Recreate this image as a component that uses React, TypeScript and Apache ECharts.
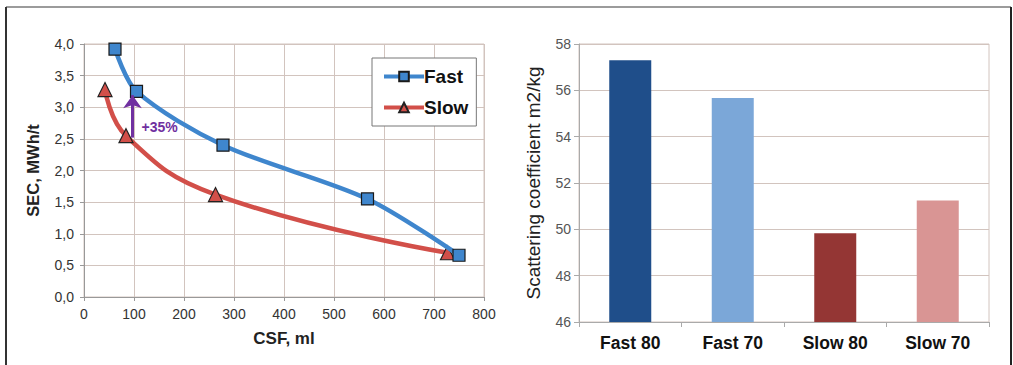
import React, { useEffect, useRef } from "react";
import * as echarts from "echarts";

// CSF (ml) vs. SEC (MWh/t) for the two refining modes
const fastCSF = [62, 105, 278, 567, 750];
const fastSEC = [3.92, 3.25, 2.4, 1.55, 0.66];
const slowCSF = [42, 84, 263, 727];
const slowSEC = [3.28, 2.55, 1.62, 0.7];

// Gain arrow between the curves at the same freeness
const gainCSF = 97;
const gainFrom = 2.52;
const gainTo = 3.19;
const gainLabel = "+35%";

// Scattering coefficient per trial
const barCategories = ["Fast 80", "Fast 70", "Slow 80", "Slow 70"];
const barValues = [57.3, 55.67, 49.83, 51.25];
const barColors = ["#1F4E8A", "#7BA7D8", "#943634", "#D99594"];

const FONT = "Liberation Sans, Arial, sans-serif";
const GRID_COLOR = "#D2C4BE";

const commaFmt = (v: number) => v.toFixed(1).replace(".", ",");

export default function App() {
  const ref = useRef<HTMLDivElement>(null);

  useEffect(() => {
    if (!ref.current) return;
    const chart = echarts.init(ref.current, null, { renderer: "svg" });

    const option: echarts.EChartsOption = {
      animation: false,
      backgroundColor: "#ffffff",
      textStyle: { fontFamily: FONT },
      graphic: [
        { type: "line", shape: { x1: 6, y1: 7, x2: 1011, y2: 7 }, style: { stroke: "#7a7a7a", lineWidth: 1.5 } },
        { type: "line", shape: { x1: 6, y1: 7, x2: 6, y2: 365 }, style: { stroke: "#333", lineWidth: 2 } },
        { type: "line", shape: { x1: 1011, y1: 7, x2: 1011, y2: 365 }, style: { stroke: "#222", lineWidth: 2 } },
      ],
      legend: {
        show: true,
        data: ["Fast", "Slow"],
        orient: "vertical",
        left: 372,
        top: 58,
        width: 101,
        padding: [9, 8, 9, 10],
        itemGap: 12,
        itemWidth: 40,
        itemHeight: 12,
        borderColor: "#777",
        borderWidth: 1,
        backgroundColor: "#fff",
        lineStyle: { width: 4 },
        textStyle: { fontFamily: FONT, fontSize: 19, fontWeight: "bold", color: "#111", padding: [0, 0, 0, -5] },
      },
      grid: [
        { left: 84, top: 44, width: 400, height: 253, show: true, borderColor: GRID_COLOR, borderWidth: 1 },
        { left: 579, top: 44, width: 410, height: 278, show: true, borderColor: GRID_COLOR, borderWidth: 1 },
      ],
      xAxis: [
        {
          type: "value",
          gridIndex: 0,
          min: 0,
          max: 800,
          interval: 100,
          name: "CSF, ml",
          nameLocation: "middle",
          nameGap: 33,
          nameTextStyle: { fontFamily: FONT, fontSize: 17, fontWeight: "bold", color: "#222" },
          axisLine: { show: true, lineStyle: { color: "#999", width: 1 } },
          axisTick: { show: true, length: 4, lineStyle: { color: "#999" } },
          axisLabel: { fontFamily: FONT, fontSize: 14, color: "#333", margin: 10 },
          splitLine: { show: true, lineStyle: { color: GRID_COLOR, width: 1 } },
        },
        {
          type: "category",
          gridIndex: 1,
          data: barCategories,
          axisLine: { show: true, lineStyle: { color: "#aaa", width: 1 } },
          axisTick: { show: true, length: 5, lineStyle: { color: "#aaa" } },
          axisLabel: { fontFamily: FONT, fontSize: 17.5, fontWeight: "bold", color: "#111", margin: 12 },
        },
      ],
      yAxis: [
        {
          type: "value",
          gridIndex: 0,
          min: 0,
          max: 4,
          interval: 0.5,
          name: "SEC, MWh/t",
          nameLocation: "middle",
          nameGap: 43,
          nameTextStyle: { fontFamily: FONT, fontSize: 16.5, fontWeight: "bold", color: "#222" },
          axisLine: { show: true, lineStyle: { color: "#999", width: 1 } },
          axisTick: { show: true, length: 4, lineStyle: { color: "#999" } },
          axisLabel: { fontFamily: FONT, fontSize: 14, color: "#333", margin: 10, formatter: commaFmt },
          splitLine: { show: true, lineStyle: { color: GRID_COLOR, width: 1 } },
        },
        {
          type: "value",
          gridIndex: 1,
          min: 46,
          max: 58,
          interval: 2,
          name: "Scattering coefficient m2/kg",
          nameLocation: "middle",
          nameGap: 36,
          nameTextStyle: { fontFamily: FONT, fontSize: 19, color: "#222" },
          axisLine: { show: true, lineStyle: { color: "#aaa", width: 1 } },
          axisTick: { show: true, length: 5, lineStyle: { color: "#aaa" } },
          axisLabel: { fontFamily: FONT, fontSize: 14, color: "#555", margin: 8 },
          splitLine: { show: true, lineStyle: { color: GRID_COLOR, width: 1 } },
        },
      ],
      series: [
        {
          name: "Slow",
          type: "line",
          xAxisIndex: 0,
          yAxisIndex: 0,
          smooth: 0.45,
          data: slowCSF.map((x, i) => [x, slowSEC[i]]),
          symbol: "triangle",
          symbolSize: 14,
          lineStyle: { color: "#D24F49", width: 4.5 },
          itemStyle: { color: "#D24F49", borderColor: "#222", borderWidth: 1.2 },
          z: 3,
          markLine: {
            silent: true,
            symbol: ["none", "arrow"],
            symbolSize: [14, 13],
            lineStyle: { color: "#7030A0", width: 3, type: "solid" },
            label: { show: false },
            data: [[{ coord: [gainCSF, gainFrom] }, { coord: [gainCSF, gainTo] }]],
          },
          markPoint: {
            silent: true,
            symbol: "circle",
            symbolSize: 0,
            data: [{ coord: [gainCSF + 8, 2.68], value: gainLabel }],
            label: {
              show: true,
              position: "right",
              formatter: gainLabel,
              fontFamily: FONT,
              fontSize: 14,
              fontWeight: "bold",
              color: "#7030A0",
            },
          },
        },
        {
          name: "Fast",
          type: "line",
          xAxisIndex: 0,
          yAxisIndex: 0,
          smooth: 0.3,
          data: fastCSF.map((x, i) => [x, fastSEC[i]]),
          symbol: "rect",
          symbolSize: 12,
          lineStyle: { color: "#3F86CD", width: 4.5 },
          itemStyle: { color: "#3F86CD", borderColor: "#1a1a1a", borderWidth: 1.2 },
          z: 4,
        },
        {
          name: "Scattering",
          type: "bar",
          xAxisIndex: 1,
          yAxisIndex: 1,
          barWidth: 42,
          data: barValues.map((v, i) => ({ value: v, itemStyle: { color: barColors[i] } })),
        },
      ],
    };

    chart.setOption(option);
    return () => chart.dispose();
  }, []);

  return (
    <div
      ref={ref}
      style={{ position: "fixed", left: 0, top: 0, width: 1013, height: 365, background: "#fff" }}
    />
  );
}
